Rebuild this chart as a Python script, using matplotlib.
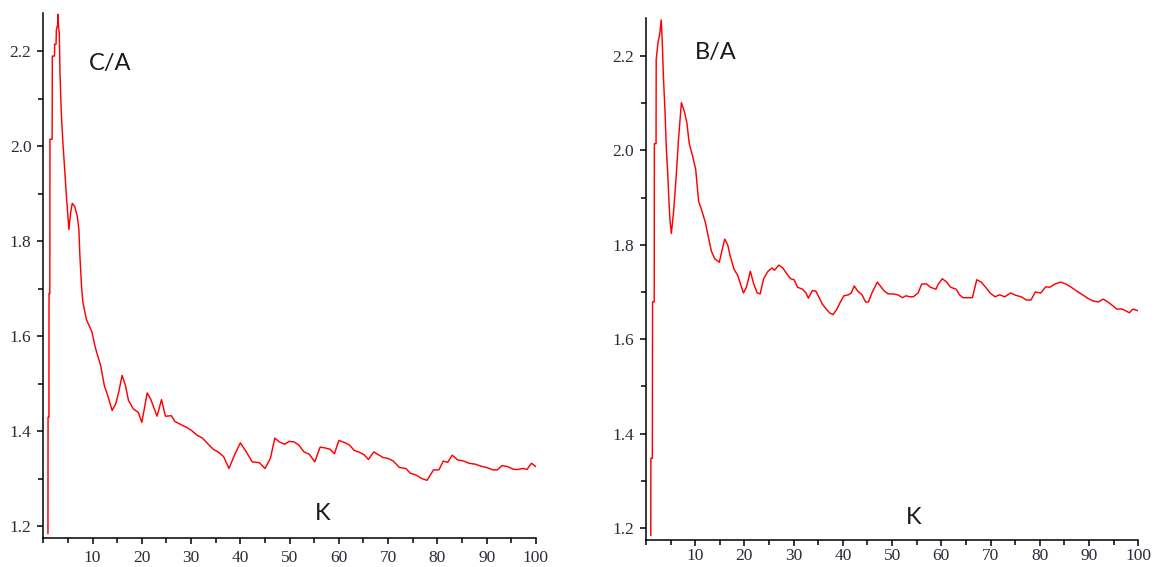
import matplotlib
matplotlib.use("Agg")
import matplotlib.pyplot as plt
from matplotlib.ticker import MultipleLocator, FormatStrFormatter

# C/A ratio against K
ca_k = [0.95, 0.97, 1.15, 1.17, 1.33, 1.36, 1.80, 1.84, 2.28, 2.31,
        2.60, 2.65, 2.90, 2.98, 3.10, 3.25, 3.39, 3.66, 3.99, 4.33,
        4.67, 5.00, 5.21, 5.55, 5.88, 6.36, 6.90, 7.23, 7.44, 7.77,
        8.04, 8.77, 9.86, 10.58, 11.67, 12.4, 13.1, 13.98, 14.7, 15.3,
        16.0, 16.7, 17.3, 18.3, 19.3, 20.0, 21.1, 21.8, 23.1, 24.0,
        24.8, 26.0, 26.7, 28.0, 29.0, 30.1, 31.2, 32.3, 33.4, 34.5,
        35.6, 36.6, 37.7, 38.8, 40.0, 41.2, 42.4, 43.9, 45.0, 46.1,
        47.0, 47.9, 49.0, 49.9, 50.9, 51.9, 52.9, 54.0, 55.1, 56.2,
        57.3, 58.2, 59.1, 60.0, 61.3, 62.2, 63.1, 64.2, 65.1, 66.0,
        67.1, 68.0, 69.0, 70.0, 71.0, 72.3, 73.6, 74.5, 75.7, 76.8,
        77.9, 79.2, 80.3, 81.2, 82.1, 83.0, 84.1, 85.4, 86.4, 87.7,
        88.8, 90.0, 91.3, 92.2, 93.1, 94.2, 95.5, 96.5, 97.3, 98.2,
        99.1, 100.0]
ca_val = [1.185, 1.43, 1.43, 1.69, 1.69, 2.015, 2.015, 2.19, 2.19, 2.215,
          2.215, 2.245, 2.255, 2.278, 2.25, 2.239, 2.158, 2.07, 2.007, 1.954,
          1.90, 1.853, 1.825, 1.86, 1.88, 1.874, 1.853, 1.825, 1.768, 1.705,
          1.672, 1.635, 1.610, 1.576, 1.5375, 1.496, 1.475, 1.444, 1.458, 1.482,
          1.518, 1.496, 1.465, 1.447, 1.440, 1.419, 1.481, 1.468, 1.432, 1.467,
          1.432, 1.433, 1.421, 1.414, 1.409, 1.402, 1.392, 1.386, 1.374, 1.3625,
          1.356, 1.347, 1.322, 1.35, 1.376, 1.357, 1.336, 1.334, 1.322, 1.343,
          1.386, 1.378, 1.373, 1.379, 1.378, 1.371, 1.357, 1.352, 1.336, 1.367,
          1.365, 1.3625, 1.353, 1.381, 1.376, 1.371, 1.360, 1.356, 1.351, 1.341,
          1.357, 1.351, 1.345, 1.343, 1.338, 1.324, 1.322, 1.312, 1.308, 1.301,
          1.297, 1.319, 1.319, 1.3375, 1.335, 1.350, 1.340, 1.3375, 1.333, 1.331,
          1.327, 1.324, 1.319, 1.319, 1.328, 1.326, 1.320, 1.320, 1.322, 1.320,
          1.333, 1.326]

# B/A ratio against K (right panel)
ba_k = [0.98, 1.00, 1.30, 1.34, 1.68, 1.71, 2.05, 2.08, 2.44, 2.80,
        3.10, 3.30, 3.54, 3.90, 4.13, 4.42, 4.64, 4.86, 5.16, 5.60,
        6.1, 6.6, 7.2, 7.8, 8.3, 8.8, 9.4, 10.1, 10.7, 11.2,
        12.0, 12.7, 13.3, 14.0, 14.9, 15.4, 16.0, 16.6, 17.1, 17.9,
        18.6, 19.2, 19.8, 20.4, 21.2, 21.9, 22.6, 23.2, 23.9, 24.8,
        25.6, 26.1, 27.0, 27.8, 28.5, 29.4, 30.1, 30.8, 31.8, 32.5,
        33.0, 33.8, 34.5, 35.1, 35.8, 36.6, 37.3, 38.0, 38.8, 39.5,
        40.2, 41.1, 41.7, 42.3, 43.0, 43.9, 44.6, 45.2, 45.9, 47.0,
        47.6, 48.4, 49.2, 50.1, 51.2, 52.1, 52.8, 53.6, 54.3, 55.3,
        56.0, 57.0, 57.8, 58.9, 59.4, 60.2, 61.1, 61.9, 63.0, 63.7,
        64.4, 65.5, 66.3, 67.2, 68.1, 69.0, 69.9, 70.9, 71.8, 72.9,
        74.1, 75.1, 76.2, 77.3, 78.2, 79.1, 80.2, 81.2, 82.0, 83.1,
        84.2, 85.3, 86.4, 87.5, 88.7, 89.7, 90.8, 91.9, 92.9, 93.8,
        94.7, 95.6, 96.7, 97.5, 98.2, 98.9, 100.0]
ba_val = [1.185, 1.348, 1.348, 1.679, 1.679, 2.014, 2.014, 2.192, 2.227, 2.246,
          2.276, 2.234, 2.158, 2.075, 2.006, 1.953, 1.90, 1.854, 1.824, 1.869,
          1.938, 2.021, 2.101, 2.082, 2.059, 2.014, 1.991, 1.960, 1.892, 1.877,
          1.850, 1.816, 1.786, 1.770, 1.763, 1.786, 1.812, 1.80, 1.777, 1.748,
          1.736, 1.717, 1.698, 1.71, 1.744, 1.717, 1.698, 1.696, 1.728, 1.744,
          1.751, 1.746, 1.757, 1.751, 1.740, 1.728, 1.726, 1.710, 1.706, 1.698,
          1.687, 1.703, 1.702, 1.690, 1.675, 1.664, 1.656, 1.652, 1.664, 1.679,
          1.692, 1.694, 1.698, 1.713, 1.702, 1.694, 1.679, 1.679, 1.698, 1.721,
          1.713, 1.702, 1.696, 1.696, 1.694, 1.688, 1.692, 1.690, 1.690, 1.698,
          1.717, 1.717, 1.710, 1.706, 1.717, 1.728, 1.721, 1.710, 1.706, 1.694,
          1.688, 1.688, 1.688, 1.726, 1.721, 1.710, 1.698, 1.690, 1.694, 1.690,
          1.698, 1.693, 1.690, 1.683, 1.683, 1.700, 1.698, 1.711, 1.710, 1.717,
          1.721, 1.717, 1.710, 1.702, 1.694, 1.687, 1.681, 1.679, 1.685, 1.679,
          1.672, 1.664, 1.664, 1.660, 1.656, 1.664, 1.660]

x_ticks = list(range(10, 101, 10))

TICK_COLOR = '#2b2b3b'


def style_axes(ax, xpad=4):
    """Maple-like axes: only left/bottom lines, outward ticks, serif labels."""
    ax.spines['top'].set_visible(False)
    ax.spines['right'].set_visible(False)
    for side in ('left', 'bottom'):
        ax.spines[side].set_linewidth(1.1)
        ax.spines[side].set_color('black')
    ax.set_xlim(0, 100)
    ax.set_ylim(1.175, 2.28)
    ax.set_xticks(x_ticks)
    ax.xaxis.set_minor_locator(MultipleLocator(5))
    ax.yaxis.set_major_locator(MultipleLocator(0.2))
    ax.yaxis.set_minor_locator(MultipleLocator(0.1))
    ax.yaxis.set_major_formatter(FormatStrFormatter('%.1f'))
    ax.tick_params(which='major', direction='out', length=4.5, width=1.1,
                   color='black', labelcolor=TICK_COLOR, labelsize=12.5, pad=4)
    ax.tick_params(axis='x', which='major', pad=xpad)
    ax.tick_params(which='minor', direction='out', length=3.5, width=1.1, color='black')
    for lab in ax.get_xticklabels() + ax.get_yticklabels():
        lab.set_family('Liberation Serif')


fig = plt.figure(figsize=(11.57, 5.67), dpi=100)

# left panel: C/A
ax1 = fig.add_axes([0.0374, 0.0506, 0.4258, 0.9259])
ax1.plot(ca_k, ca_val, color='#ff0000', lw=1.05)
style_axes(ax1)
ax1.text(0.135, 0.904, 'C/A', transform=ax1.transAxes, family='Lato',
         fontsize=17, ha='center', va='center', color='#1a1a1a')
ax1.text(0.567, 0.048, 'K', transform=ax1.transAxes, family='Lato',
         fontsize=17, ha='center', va='center', color='#1a1a1a')

# right panel: B/A (its tick labels sit right at the lower edge, so less pad)
ax2 = fig.add_axes([0.5583, 0.0476, 0.4255, 0.9206])
ax2.plot(ba_k, ba_val, color='#ff0000', lw=1.05)
style_axes(ax2, xpad=1.5)
ax2.text(0.142, 0.934, 'B/A', transform=ax2.transAxes, family='Lato',
         fontsize=17, ha='center', va='center', color='#1a1a1a')
ax2.text(0.544, 0.043, 'K', transform=ax2.transAxes, family='Lato',
         fontsize=17, ha='center', va='center', color='#1a1a1a')

fig.savefig('out.png', dpi=100, facecolor='white')
